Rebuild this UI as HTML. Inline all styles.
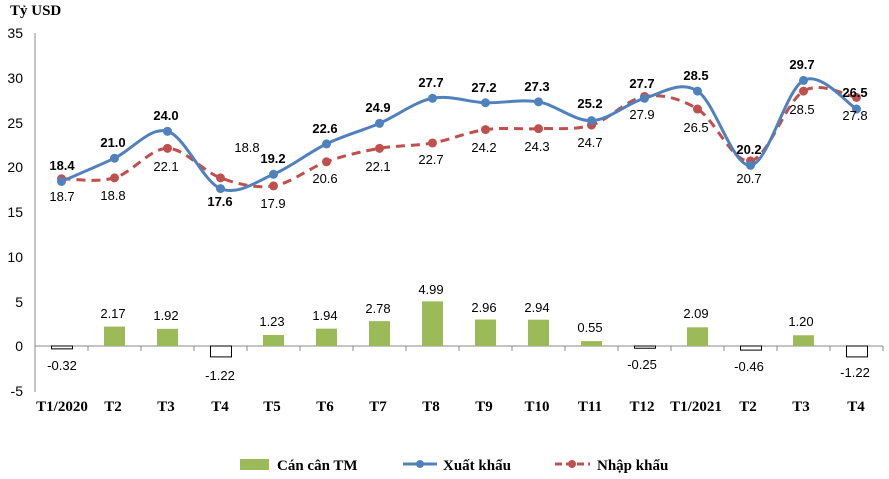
<!DOCTYPE html>
<html><head><meta charset="utf-8"><style>
html,body{margin:0;padding:0;background:#fff}
svg{display:block}
.ax{font-family:"Liberation Sans",sans-serif;font-size:14px;fill:#000}
.cat{font-family:"Liberation Serif",serif;font-size:15px;font-weight:bold;fill:#000}
.eb{font-family:"Liberation Sans",sans-serif;font-size:13px;font-weight:bold;fill:#000}
.il{font-family:"Liberation Sans",sans-serif;font-size:13px;fill:#000}
</style></head><body>
<svg id="s" width="889" height="479" viewBox="0 0 889 479" xmlns="http://www.w3.org/2000/svg">
<text x="10" y="15" class="cat" font-size="14">Tỷ USD</text>
<g class="ax" text-anchor="end">
<text x="23" y="38">35</text><text x="23" y="83">30</text><text x="23" y="128">25</text><text x="23" y="172">20</text>
<text x="23" y="217">15</text><text x="23" y="262">10</text><text x="23" y="307">5</text><text x="23" y="351">0</text><text x="23" y="396">-5</text>
</g>
<line x1="35" y1="33" x2="35" y2="392" stroke="#888"/>
<g id="ticks" stroke="#888"></g>
<g id="bars"></g>
<path id="imp" fill="none" stroke="#C0504D" stroke-width="3" stroke-dasharray="9,6"/>
<path id="exp" fill="none" stroke="#4F81BD" stroke-width="3"/>
<g id="mk"></g>
<g class="cat" text-anchor="middle">
<text x="62" y="411">T1/2020</text><text x="113" y="411">T2</text><text x="166" y="411">T3</text><text x="220" y="411">T4</text>
<text x="272" y="411">T5</text><text x="325" y="411">T6</text><text x="378" y="411">T7</text><text x="431" y="411">T8</text>
<text x="484" y="411">T9</text><text x="537" y="411">T10</text><text x="590" y="411">T11</text><text x="642" y="411">T12</text>
<text x="696" y="411">T1/2021</text><text x="748" y="411">T2</text><text x="801" y="411">T3</text><text x="856" y="411">T4</text>
</g>
<g class="eb" text-anchor="middle">
<text x="62" y="170">18.4</text><text x="113" y="147">21.0</text><text x="166" y="120">24.0</text><text x="220" y="206">17.6</text>
<text x="273" y="163">19.2</text><text x="325" y="133">22.6</text><text x="378" y="112">24.9</text><text x="431" y="87">27.7</text>
<text x="484" y="92">27.2</text><text x="537" y="91">27.3</text><text x="590" y="108">25.2</text><text x="642" y="88">27.7</text>
<text x="696" y="80">28.5</text><text x="749" y="154">20.2</text><text x="802" y="69">29.7</text><text x="855" y="97">26.5</text>
</g>
<g class="il" text-anchor="middle">
<text x="62" y="201">18.7</text><text x="113" y="200">18.8</text><text x="166" y="171">22.1</text><text x="247" y="152">18.8</text>
<text x="273" y="208">17.9</text><text x="325" y="183">20.6</text><text x="378" y="171">22.1</text><text x="431" y="164">22.7</text>
<text x="484" y="152">24.2</text><text x="537" y="151">24.3</text><text x="590" y="147">24.7</text><text x="642" y="119">27.9</text>
<text x="696" y="132">26.5</text><text x="749" y="183">20.7</text><text x="802" y="114">28.5</text><text x="855" y="120">27.8</text>
</g>
<g class="il" text-anchor="middle">
<text x="62" y="370">-0.32</text><text x="113" y="318">2.17</text><text x="166" y="320">1.92</text><text x="220" y="380">-1.22</text>
<text x="272" y="326">1.23</text><text x="325" y="320">1.94</text><text x="378" y="313">2.78</text><text x="431" y="294">4.99</text>
<text x="484" y="312">2.96</text><text x="537" y="312">2.94</text><text x="590" y="332">0.55</text><text x="642" y="369">-0.25</text>
<text x="696" y="318">2.09</text><text x="749" y="371">-0.46</text><text x="801" y="326">1.20</text><text x="855" y="377">-1.22</text>
</g>
<rect x="240" y="459" width="29" height="11" fill="#9BBB59"/>
<text x="277" y="470" class="cat">Cán cân TM</text>
<line x1="403" y1="464" x2="437" y2="464" stroke="#4F81BD" stroke-width="3"/><circle cx="420" cy="464" r="4" fill="#4F81BD"/>
<text x="443" y="470" class="cat">Xuất khẩu</text>
<line x1="555" y1="464" x2="590" y2="464" stroke="#C0504D" stroke-width="3" stroke-dasharray="7,4"/><circle cx="572" cy="464" r="4" fill="#C0504D"/>
<text x="597" y="470" class="cat">Nhập khẩu</text>
</svg>
<script>
var E=[18.4,21.0,24.0,17.6,19.2,22.6,24.9,27.7,27.2,27.3,25.2,27.7,28.5,20.2,29.7,26.5];
var I=[18.7,18.8,22.1,18.8,17.9,20.6,22.1,22.7,24.2,24.3,24.7,27.9,26.5,20.7,28.5,27.8];
var B=[-0.32,2.17,1.92,-1.22,1.23,1.94,2.78,4.99,2.96,2.94,0.55,-0.25,2.09,-0.46,1.20,-1.22];
function X(i){return 61.5+53*i}function Y(v){return 346-v*8.943}
var NS="http://www.w3.org/2000/svg";
function el(p,t,a){var e=document.createElementNS(NS,t);for(var k in a)e.setAttribute(k,a[k]);document.getElementById(p).appendChild(e);}
for(var i=0;i<=16;i++)el("ticks","line",{x1:35+53*i,y1:346,x2:35+53*i,y2:351});
el("ticks","line",{x1:35,y1:346,x2:883,y2:346});
B.forEach(function(b,i){var y0=Y(0),y1=Y(b);if(b>=0)el("bars","rect",{x:X(i)-10.5,y:y1,width:21,height:y0-y1,fill:"#9BBB59"});
else el("bars","rect",{x:X(i)-10.5+0.5,y:y0,width:21,height:y1-y0,fill:"#fff",stroke:"#000"});});
function path(d){var p=d.map(function(v,i){return[X(i),Y(v)]});var s="M"+p[0][0]+","+p[0][1];
for(var i=0;i<p.length-1;i++){var a=p[i-1]||p[i],b=p[i],c=p[i+1],e=p[i+2]||c;
s+=" C"+(b[0]+(c[0]-a[0])/6)+","+(b[1]+(c[1]-a[1])/6)+" "+(c[0]-(e[0]-b[0])/6)+","+(c[1]-(e[1]-b[1])/6)+" "+c[0]+","+c[1];}return s;}
document.getElementById("exp").setAttribute("d",path(E));
document.getElementById("imp").setAttribute("d",path(I));
I.forEach(function(v,i){el("mk","circle",{cx:X(i),cy:Y(v),r:4.5,fill:"#C0504D"})});
E.forEach(function(v,i){el("mk","circle",{cx:X(i),cy:Y(v),r:4.5,fill:"#4F81BD"})});
</script>
</body></html>
